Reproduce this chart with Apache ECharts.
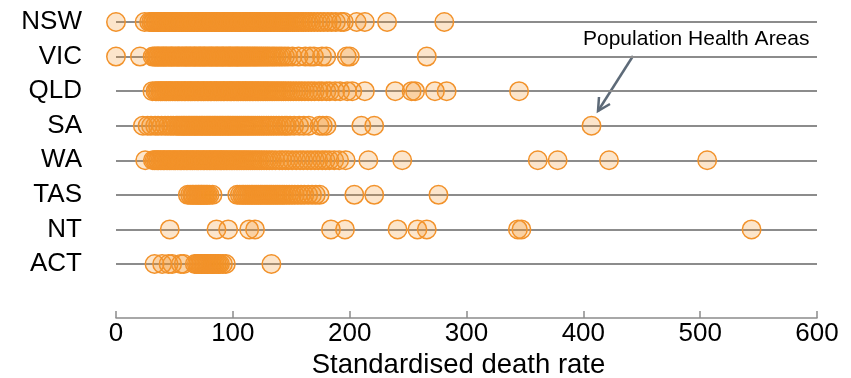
<!DOCTYPE html>
<html>
<head>
<meta charset="utf-8">
<script src="https://cdn.jsdelivr.net/npm/echarts@6/dist/echarts.min.js"></script>
<style>html,body{margin:0;padding:0;background:#fff}#c{width:851px;height:378px}</style>
</head>
<body>
<div id="c"></div>
<script>
var states = ['NSW','VIC','QLD','SA','WA','TAS','NT','ACT'];
var xTicks = [0,100,200,300,400,500,600];
var nsw = [0,24.5,28.4,30.1,31.5,32.2,33.8,34.5,35.9,36.7,38.0,39.3,40.1,41.6,42.4,43.9,45.2,46.0,47.3,48.8,49.5,50.9,52.1,53.4,54.0,55.7,56.6,57.8,59.2,60.4,61.1,62.7,63.5,64.9,66.2,67.0,68.6,69.3,70.8,72.0,73.4,74.1,75.5,76.9,77.6,79.0,80.3,81.7,82.4,83.8,85.1,86.0,87.5,88.2,89.9,91.0,92.3,93.7,94.4,95.8,97.1,98.5,99.2,100.6,101.9,103.1,104.4,105.7,106.5,108.0,109.3,110.6,111.4,112.9,114.2,115.5,116.3,117.8,119.0,120.4,121.7,122.5,124.0,125.3,126.8,127.6,129.1,130.4,131.9,133.2,134.5,135.8,137.3,138.6,140.0,141.5,142.9,144.6,146.0,147.7,149.3,151.0,152.8,154.5,156.3,158.4,160.2,162.5,164.7,167.0,169.6,172.4,175.1,178.0,181.3,184.6,188.2,192.5,195.0,206,213,232,281];
var vic = [0,20.5,31.4,33.0,34.2,35.6,36.3,37.7,38.9,40.2,41.0,42.5,43.3,44.8,46.1,47.4,48.0,49.6,50.8,52.2,53.5,54.1,55.9,57.0,58.3,59.7,60.5,61.8,63.2,64.0,65.5,66.9,67.6,69.0,70.3,71.7,72.4,73.9,75.2,76.0,77.5,78.8,80.1,81.4,82.2,83.7,85.0,86.3,87.1,88.6,89.9,91.2,92.0,93.5,94.8,96.1,97.4,98.2,99.7,101.0,102.3,103.6,104.4,105.9,107.2,108.5,109.8,111.3,112.6,114.0,115.4,116.9,118.3,119.8,121.2,122.9,124.5,126.2,128.0,129.7,131.5,133.6,135.4,137.5,139.8,142.0,144.6,147.3,151.0,156.2,162.0,166.1,169.4,176.3,180.0,197.5,200.1,266];
var qld = [31.2,33.8,35.0,36.4,37.9,38.6,40.0,41.3,42.7,43.5,44.9,46.2,47.0,48.5,49.8,51.1,52.4,53.2,54.7,56.0,57.3,58.6,59.4,60.9,62.2,63.5,64.3,65.8,67.1,68.4,69.7,70.5,72.0,73.3,74.6,75.4,76.9,78.2,79.5,80.8,81.6,83.1,84.4,85.7,86.5,88.0,89.3,90.6,91.9,92.7,94.2,95.5,96.8,98.1,98.9,100.4,101.7,103.0,104.3,105.1,106.6,107.9,109.2,110.5,111.3,112.8,114.1,115.4,116.7,118.0,119.5,120.8,122.1,123.6,125.0,126.5,128.0,129.4,131.0,132.7,134.3,136.0,137.8,139.5,141.4,143.3,145.2,147.4,149.5,151.8,154.1,156.6,159.0,161.7,164.5,167.2,170.0,173.5,176.3,180.1,183.0,187.6,191.8,197.9,202.2,213,239,253,256,273,283,345];
var sa = [23,27,30,33.5,36,39,42,44.5,47,49,51.5,53,54.6,56.1,57.5,58.8,60.2,61.7,63.0,64.4,65.9,67.3,68.6,70.0,71.5,72.9,74.2,75.6,77.1,78.5,79.8,81.2,82.7,84.1,85.4,86.8,88.3,89.7,91.0,92.4,93.9,95.3,96.6,98.0,99.5,101.0,102.6,104.1,105.7,107.2,108.9,110.5,112.2,113.8,115.6,117.3,119.1,121.0,122.8,124.7,126.6,128.7,130.6,132.8,134.9,137.2,139.5,142.0,144.6,146.3,149.0,152.5,156.8,160.7,165.0,174.3,177.0,180.2,210,221,407];
var wa = [25,31.6,33.0,34.3,35.7,36.5,38.0,39.3,40.6,41.4,42.9,44.2,45.5,46.3,47.8,49.1,50.4,51.2,52.7,54.0,55.3,56.1,57.6,58.9,60.2,61.0,62.5,63.8,65.1,65.9,67.4,68.7,70.0,70.8,72.3,73.6,74.9,75.7,77.2,78.5,79.8,80.6,82.1,83.4,84.7,85.5,87.0,88.3,89.6,90.4,91.9,93.2,94.5,95.8,97.3,98.6,100.0,101.4,102.9,104.3,105.8,107.3,108.9,110.4,112.0,113.7,115.3,117.1,118.9,120.7,122.6,124.5,126.7,128.9,131.2,133.6,136.4,139.8,142.3,145.1,147.6,150.8,154.2,157.5,160.4,163.8,166.9,170.2,173.1,176.5,179.4,182.7,186.8,191.0,196.6,216,245,361,378,422,506];
var tas = [61.5,63.4,65.1,66.2,67.8,69.0,70.3,71.2,72.6,73.5,74.7,75.9,77.2,78.4,80.0,82.6,103.8,106.0,107.9,109.3,111.0,112.6,114.1,115.8,117.2,118.9,120.5,122.0,123.7,125.1,126.8,128.4,130.0,131.7,133.3,135.0,136.8,138.5,140.3,142.2,144.0,146.1,148.3,150.6,153.0,155.7,158.4,161.2,164.5,167.8,171.0,174.3,204,221,276];
var nt = [46,86,96,114,119,184,196,241,258,266,344,347,544];
var act = [33,39.5,45,48,55.5,58,67.5,69.2,70.6,71.9,73.1,74.4,75.6,76.9,78.1,79.4,80.8,82.0,83.3,84.7,86.2,87.6,89.0,91.5,94,133];
var annotationText = 'Population Health Areas';
var xTitle = 'Standardised death rate';

var byState = {NSW:nsw, VIC:vic, QLD:qld, SA:sa, WA:wa, TAS:tas, NT:nt, ACT:act};

var series = states.map(function(s){
  return {
    type:'scatter', name:s, clip:false,
    symbol:'circle', symbolSize:18.5,
    itemStyle:{color:'rgba(242,146,37,0.24)', borderColor:'#F2922A', borderWidth:1.5, opacity:1},
    emphasis:{disabled:true},
    data: byState[s].map(function(v){return [v, s];})
  };
});

var chart = echarts.init(document.getElementById('c'), null, {renderer:'canvas'});
chart.setOption({
  animation:false,
  grid:{left:116, right:34, top:22, bottom:114, containLabel:false, outerBoundsMode:'none'},
  xAxis:{
    type:'value', min:xTicks[0], max:xTicks[xTicks.length-1], interval:100,
    offset:54,
    name:xTitle, nameLocation:'middle', nameGap:20,
    nameTextStyle:{fontFamily:'Liberation Sans, Arial, sans-serif', fontSize:27.5, color:'#000', padding:[0,16,0,0]},
    axisLine:{show:true, lineStyle:{color:'#8c8c8c', width:1.5}},
    axisTick:{show:true, inside:true, length:7, lineStyle:{color:'#8c8c8c', width:1.5}},
    axisLabel:{fontFamily:'Liberation Sans, Arial, sans-serif', fontSize:26, color:'#000', margin:3},
    splitLine:{show:false}
  },
  yAxis:{
    type:'category', data:states, inverse:true, boundaryGap:false,
    axisLine:{show:false}, axisTick:{show:false},
    axisLabel:{fontFamily:'Liberation Sans, Arial, sans-serif', fontSize:26, color:'#000', margin:34},
    splitLine:{show:true, lineStyle:{color:'#8c8c8c', width:2}}
  },
  series:series,
  graphic:[
    {type:'text', left:583, top:29, style:{text:annotationText, font:'21px "Liberation Sans", Arial, sans-serif', fill:'#000'}},
    {type:'polyline', shape:{points:[[633,56],[598,111]]}, style:{stroke:'#5d6a78', lineWidth:2.5, fill:null}},
    {type:'polyline', shape:{points:[[610,104],[598,111],[599,97]]}, style:{stroke:'#5d6a78', lineWidth:2.5, fill:null}}
  ]
});
</script>
</body>
</html>
